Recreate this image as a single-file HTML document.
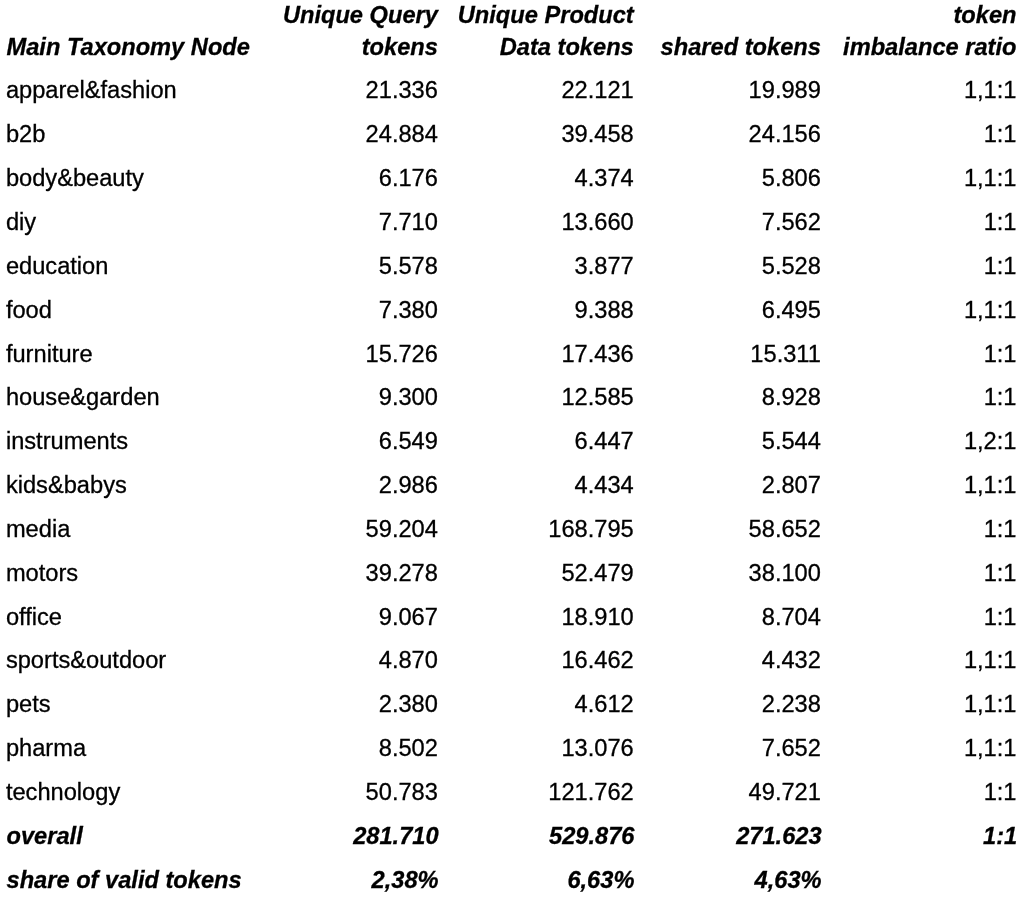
<!DOCTYPE html>
<html><head><meta charset="utf-8"><title>Token statistics</title>
<style>
html,body{margin:0;padding:0;background:#fff;}
body{width:1024px;height:897px;position:relative;overflow:hidden;font-family:"Liberation Sans",Arial,Helvetica,sans-serif;color:#000;}
.c{position:absolute;font-size:23.65px;line-height:1;white-space:nowrap;}
.b{font-weight:bold;font-style:italic;}

#w{position:absolute;left:0;top:0;width:1024px;height:897px;background:#fff;filter:blur(0.35px);-webkit-text-stroke:0.3px #000;}
</style></head><body><div id="w">
<div class="c b" style="top:35.58px;left:6.50px">Main Taxonomy Node</div>
<div class="c r b" style="top:4.28px;right:586.10px">Unique Query</div>
<div class="c r b" style="top:35.58px;right:586.10px">tokens</div>
<div class="c r b" style="top:4.28px;right:390.25px">Unique Product</div>
<div class="c r b" style="top:35.58px;right:390.25px">Data tokens</div>
<div class="c r b" style="top:35.58px;right:203.10px">shared tokens</div>
<div class="c r b" style="top:4.28px;right:7.50px">token</div>
<div class="c r b" style="top:35.58px;right:7.50px">imbalance ratio</div>
<div class="c " style="top:79.48px;left:5.90px">apparel&amp;fashion</div>
<div class="c r " style="top:79.48px;right:586.10px">21.336</div>
<div class="c r " style="top:79.48px;right:390.25px">22.121</div>
<div class="c r " style="top:79.48px;right:203.10px">19.989</div>
<div class="c r " style="top:79.48px;right:7.50px">1,1:1</div>
<div class="c " style="top:123.32px;left:5.90px">b2b</div>
<div class="c r " style="top:123.32px;right:586.10px">24.884</div>
<div class="c r " style="top:123.32px;right:390.25px">39.458</div>
<div class="c r " style="top:123.32px;right:203.10px">24.156</div>
<div class="c r " style="top:123.32px;right:7.50px">1:1</div>
<div class="c " style="top:167.16px;left:5.90px">body&amp;beauty</div>
<div class="c r " style="top:167.16px;right:586.10px">6.176</div>
<div class="c r " style="top:167.16px;right:390.25px">4.374</div>
<div class="c r " style="top:167.16px;right:203.10px">5.806</div>
<div class="c r " style="top:167.16px;right:7.50px">1,1:1</div>
<div class="c " style="top:211.00px;left:5.90px">diy</div>
<div class="c r " style="top:211.00px;right:586.10px">7.710</div>
<div class="c r " style="top:211.00px;right:390.25px">13.660</div>
<div class="c r " style="top:211.00px;right:203.10px">7.562</div>
<div class="c r " style="top:211.00px;right:7.50px">1:1</div>
<div class="c " style="top:254.84px;left:5.90px">education</div>
<div class="c r " style="top:254.84px;right:586.10px">5.578</div>
<div class="c r " style="top:254.84px;right:390.25px">3.877</div>
<div class="c r " style="top:254.84px;right:203.10px">5.528</div>
<div class="c r " style="top:254.84px;right:7.50px">1:1</div>
<div class="c " style="top:298.68px;left:5.90px">food</div>
<div class="c r " style="top:298.68px;right:586.10px">7.380</div>
<div class="c r " style="top:298.68px;right:390.25px">9.388</div>
<div class="c r " style="top:298.68px;right:203.10px">6.495</div>
<div class="c r " style="top:298.68px;right:7.50px">1,1:1</div>
<div class="c " style="top:342.52px;left:5.90px">furniture</div>
<div class="c r " style="top:342.52px;right:586.10px">15.726</div>
<div class="c r " style="top:342.52px;right:390.25px">17.436</div>
<div class="c r " style="top:342.52px;right:203.10px">15.311</div>
<div class="c r " style="top:342.52px;right:7.50px">1:1</div>
<div class="c " style="top:386.36px;left:5.90px">house&amp;garden</div>
<div class="c r " style="top:386.36px;right:586.10px">9.300</div>
<div class="c r " style="top:386.36px;right:390.25px">12.585</div>
<div class="c r " style="top:386.36px;right:203.10px">8.928</div>
<div class="c r " style="top:386.36px;right:7.50px">1:1</div>
<div class="c " style="top:430.20px;left:5.90px">instruments</div>
<div class="c r " style="top:430.20px;right:586.10px">6.549</div>
<div class="c r " style="top:430.20px;right:390.25px">6.447</div>
<div class="c r " style="top:430.20px;right:203.10px">5.544</div>
<div class="c r " style="top:430.20px;right:7.50px">1,2:1</div>
<div class="c " style="top:474.04px;left:5.90px">kids&amp;babys</div>
<div class="c r " style="top:474.04px;right:586.10px">2.986</div>
<div class="c r " style="top:474.04px;right:390.25px">4.434</div>
<div class="c r " style="top:474.04px;right:203.10px">2.807</div>
<div class="c r " style="top:474.04px;right:7.50px">1,1:1</div>
<div class="c " style="top:517.88px;left:5.90px">media</div>
<div class="c r " style="top:517.88px;right:586.10px">59.204</div>
<div class="c r " style="top:517.88px;right:390.25px">168.795</div>
<div class="c r " style="top:517.88px;right:203.10px">58.652</div>
<div class="c r " style="top:517.88px;right:7.50px">1:1</div>
<div class="c " style="top:561.72px;left:5.90px">motors</div>
<div class="c r " style="top:561.72px;right:586.10px">39.278</div>
<div class="c r " style="top:561.72px;right:390.25px">52.479</div>
<div class="c r " style="top:561.72px;right:203.10px">38.100</div>
<div class="c r " style="top:561.72px;right:7.50px">1:1</div>
<div class="c " style="top:605.56px;left:5.90px">office</div>
<div class="c r " style="top:605.56px;right:586.10px">9.067</div>
<div class="c r " style="top:605.56px;right:390.25px">18.910</div>
<div class="c r " style="top:605.56px;right:203.10px">8.704</div>
<div class="c r " style="top:605.56px;right:7.50px">1:1</div>
<div class="c " style="top:649.40px;left:5.90px">sports&amp;outdoor</div>
<div class="c r " style="top:649.40px;right:586.10px">4.870</div>
<div class="c r " style="top:649.40px;right:390.25px">16.462</div>
<div class="c r " style="top:649.40px;right:203.10px">4.432</div>
<div class="c r " style="top:649.40px;right:7.50px">1,1:1</div>
<div class="c " style="top:693.24px;left:5.90px">pets</div>
<div class="c r " style="top:693.24px;right:586.10px">2.380</div>
<div class="c r " style="top:693.24px;right:390.25px">4.612</div>
<div class="c r " style="top:693.24px;right:203.10px">2.238</div>
<div class="c r " style="top:693.24px;right:7.50px">1,1:1</div>
<div class="c " style="top:737.08px;left:5.90px">pharma</div>
<div class="c r " style="top:737.08px;right:586.10px">8.502</div>
<div class="c r " style="top:737.08px;right:390.25px">13.076</div>
<div class="c r " style="top:737.08px;right:203.10px">7.652</div>
<div class="c r " style="top:737.08px;right:7.50px">1,1:1</div>
<div class="c " style="top:780.92px;left:5.90px">technology</div>
<div class="c r " style="top:780.92px;right:586.10px">50.783</div>
<div class="c r " style="top:780.92px;right:390.25px">121.762</div>
<div class="c r " style="top:780.92px;right:203.10px">49.721</div>
<div class="c r " style="top:780.92px;right:7.50px">1:1</div>
<div class="c b" style="top:824.76px;left:6.50px">overall</div>
<div class="c r b" style="top:824.76px;right:585.40px">281.710</div>
<div class="c r b" style="top:824.76px;right:389.55px">529.876</div>
<div class="c r b" style="top:824.76px;right:202.40px">271.623</div>
<div class="c r b" style="top:824.76px;right:6.80px">1:1</div>
<div class="c b" style="top:868.60px;left:6.50px">share of valid tokens</div>
<div class="c r b" style="top:868.60px;right:585.40px">2,38%</div>
<div class="c r b" style="top:868.60px;right:389.55px">6,63%</div>
<div class="c r b" style="top:868.60px;right:202.40px">4,63%</div>
</div></body></html>
